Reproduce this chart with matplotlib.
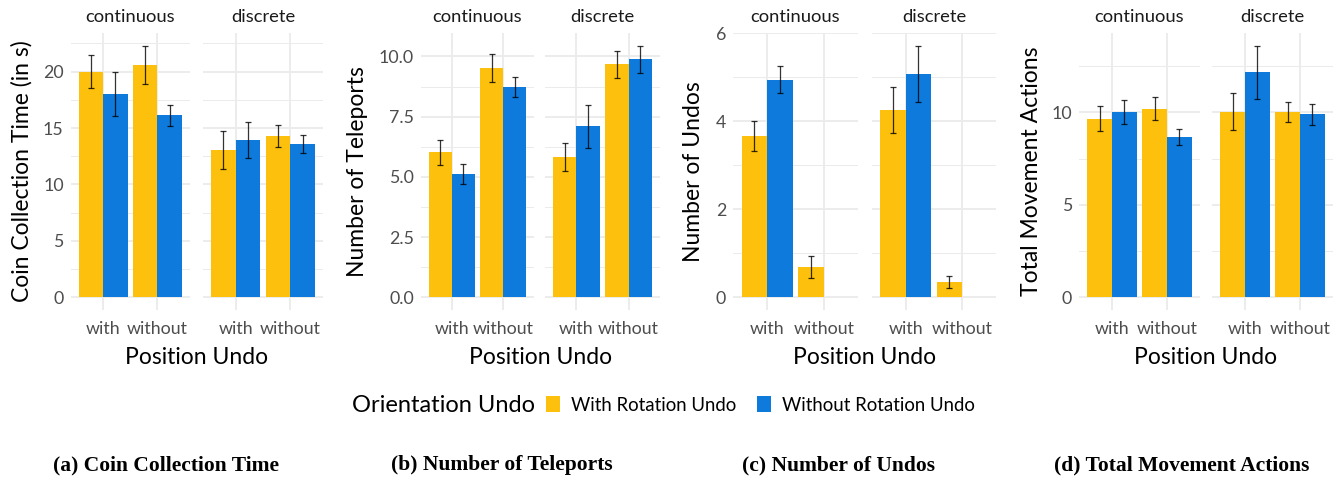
import numpy as np
import matplotlib.pyplot as plt
from matplotlib.patches import Patch

plt.rcParams['font.family'] = ['Lato', 'DejaVu Sans']

# order of values: continuous-with, continuous-without, discrete-with, discrete-without
facets = ["continuous", "discrete"]
position_undo = ["with", "without"]
rotation_labels = ["With Rotation Undo", "Without Rotation Undo"]
colors = ["#FCC00D", "#0E7ADC"]

time_with_rot = [20.0, 20.6, 13.04, 14.28]
time_with_rot_ci = [1.45, 1.7, 1.68, 0.99]
time_without_rot = [18.0, 16.15, 13.93, 13.57]
time_without_rot_ci = [1.95, 0.93, 1.6, 0.79]

tele_with_rot = [6.02, 9.52, 5.81, 9.68]
tele_with_rot_ci = [0.53, 0.57, 0.58, 0.56]
tele_without_rot = [5.11, 8.73, 7.10, 9.89]
tele_without_rot_ci = [0.42, 0.42, 0.90, 0.56]

undo_with_rot = [3.66, 0.68, 4.25, 0.35]
undo_with_rot_ci = [0.34, 0.25, 0.52, 0.14]
undo_without_rot = [4.94, 0.0, 5.07, 0.0]
undo_without_rot_ci = [0.30, np.nan, 0.63, np.nan]

move_with_rot = [9.66, 10.2, 10.02, 10.02]
move_with_rot_ci = [0.68, 0.64, 1.0, 0.55]
move_without_rot = [10.02, 8.68, 12.16, 9.88]
move_without_rot_ci = [0.66, 0.43, 1.44, 0.55]

panels = [
    ("Coin Collection Time (in s)", time_with_rot, time_with_rot_ci, time_without_rot, time_without_rot_ci,
     [0, 5, 10, 15, 20], 2.5, "%g", "(a) Coin Collection Time"),
    ("Number of Teleports", tele_with_rot, tele_with_rot_ci, tele_without_rot, tele_without_rot_ci,
     [0, 2.5, 5, 7.5, 10], 1.25, "%.1f", "(b) Number of Teleports"),
    ("Number of Undos", undo_with_rot, undo_with_rot_ci, undo_without_rot, undo_without_rot_ci,
     [0, 2, 4, 6], 1, "%g", "(c) Number of Undos"),
    ("Total Movement Actions", move_with_rot, move_with_rot_ci, move_without_rot, move_without_rot_ci,
     [0, 5, 10], 2.5, "%g", "(d) Total Movement Actions"),
]

# pixel layout (figure 1340 x 479)
W, H = 1340, 479
facet_px = [[(70.7, 190), (203, 323)],
            [(421, 534), (545, 660)],
            [(733, 858), (872, 996)],
            [(1079, 1200), (1212, 1333)]]
ylabel_x = [22, 358, 693, 1031]
caption_x = [166, 502, 839, 1182]
ax_top, ax_bot = 33, 310

fig = plt.figure(figsize=(13.4, 4.79), dpi=100)

for p, (ylab, m1, c1, m2, c2, ticks, minor_step, fmt, caption) in enumerate(panels):
    lo_all = np.nanmin(np.array(m1) - np.nan_to_num(c1))
    hi_all = np.nanmax([np.nanmax(np.array(m1) + np.nan_to_num(c1)),
                        np.nanmax(np.array(m2) + np.nan_to_num(c2))])
    lo_all = min(lo_all, 0)
    pad = (hi_all - lo_all) * 0.05
    ylim = (lo_all - pad, hi_all + pad)

    for f in range(2):
        x0, x1 = facet_px[p][f]
        ax = fig.add_axes([x0 / W, 1 - ax_bot / H, (x1 - x0) / W, (ax_bot - ax_top) / H])
        x = np.arange(2)
        sl = slice(2 * f, 2 * f + 2)
        for r, (m, c) in enumerate([(m1, c1), (m2, c2)]):
            xs = x + (r - 0.5) * 0.45
            ax.bar(xs, m[sl], width=0.45, color=colors[r], zorder=2)
            ax.errorbar(xs, m[sl], yerr=c[sl], fmt='none', ecolor='black', elinewidth=0.9,
                        capsize=2.5, capthick=0.9, alpha=0.8, zorder=3)
        ax.set_xlim(-0.6, 1.6)
        ax.set_ylim(*ylim)
        ax.set_xticks(x)
        ax.set_xticklabels(position_undo)
        ax.set_yticks(ticks)
        minors = np.arange(minor_step, ylim[1], minor_step * 2)
        ax.set_yticks(minors, minor=True)
        ax.grid(True, which='major', color='#ebebeb', lw=1.3, zorder=0)
        ax.grid(True, which='minor', axis='y', color='#ebebeb', lw=0.7, zorder=0)
        ax.set_axisbelow(True)
        for s in ax.spines.values():
            s.set_visible(False)
        ax.tick_params(axis='both', which='both', length=0, labelsize=12.8, labelcolor='#4d4d4d')
        ax.tick_params(axis='x', pad=8)
        ax.tick_params(axis='y', pad=5)
        if f == 0:
            ax.set_yticklabels([fmt % t for t in ticks])
        else:
            ax.set_yticklabels([])
        ax.set_title(facets[f], fontsize=13.2, color='#1a1a1a', pad=8)

    left = facet_px[p][0][0]
    right = facet_px[p][1][1]
    fig.text((left + right) / 2 / W, 1 - 357 / H, "Position Undo", ha='center', va='center', fontsize=16.5)
    fig.text(ylabel_x[p] / W, 1 - (ax_top + ax_bot) / 2 / H, ylab, rotation=90,
             ha='center', va='center', fontsize=16.5)
    fig.text(caption_x[p] / W, 1 - 465 / H, caption, ha='center', va='center', fontsize=15.5,
             family='Liberation Serif', weight='bold')

# legend
fig.text(352 / W, 1 - 405 / H, "Orientation Undo", ha='left', va='center', fontsize=17)
handles = [Patch(facecolor=colors[i], edgecolor='none') for i in range(2)]
fig.legend(handles, rotation_labels, loc='center left', bbox_to_anchor=(537 / W, 1 - 405 / H),
           ncol=2, frameon=False, fontsize=13.4, handlelength=0.75, handleheight=0.95,
           handletextpad=0.6, columnspacing=1.1, borderpad=0)

plt.savefig("out.png", dpi=100)
